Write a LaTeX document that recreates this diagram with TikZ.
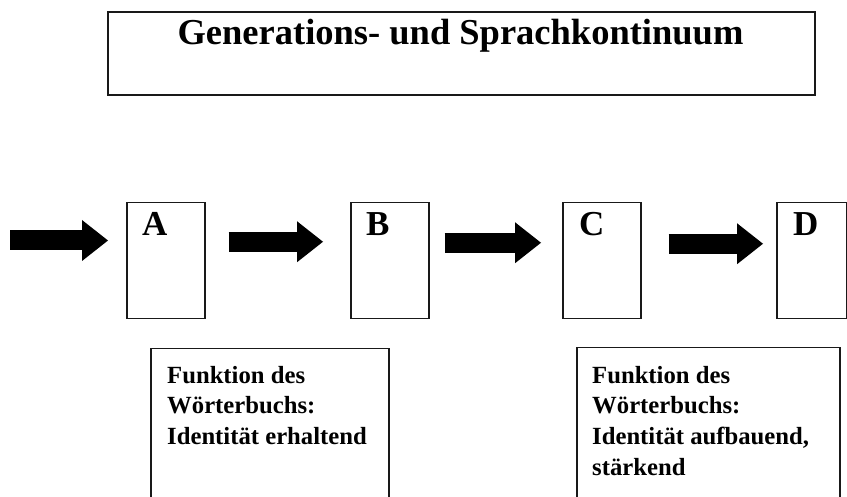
\documentclass[tikz,border=0pt]{standalone}
\usepackage{fontspec}
\setmainfont{Liberation Serif}
\usetikzlibrary{arrows.meta,calc}
\begin{document}
\begin{tikzpicture}[x=1pt,y=-1pt,
  frame/.style={draw=black!90, line width=1.5pt, inner sep=0pt, anchor=north west},
  stagebox/.style={frame, minimum width=78pt, minimum height=116pt},
  letter/.style={font=\fontsize{35}{40}\selectfont\bfseries, inner sep=0pt, anchor=base west},
  infotext/.style={font=\fontsize{24.7}{30.8}\selectfont\bfseries, inner sep=0pt, anchor=base west, align=left},
  fatarrow/.style={line width=20pt, -{Triangle[length=26pt,width=41pt,line width=0pt]}}]
\useasboundingbox (0,0) rectangle (847,497);
\clip (0,0) rectangle (847,497);

% title frame
\node[frame, line width=1.7pt, minimum width=707pt, minimum height=83pt] (title) at (107,11) {};
\node[font=\fontsize{36.5}{40}\selectfont\bfseries, inner sep=0pt, anchor=base] (titletext) at (460.5,45) {Generations- und Sprachkontinuum};

% the four stages
\node[stagebox] (A) at (126,202) {};
\node[stagebox] (B) at (350,202) {};
\node[stagebox] (C) at (562,202) {};
\node[stagebox, minimum width=70pt] (D) at (776,202) {};
\node[letter] (la) at ([xshift=16pt,yshift=-34pt]A.north west) {A};
\node[letter] (lb) at ([xshift=16pt,yshift=-34pt]B.north west) {B};
\node[letter] (lc) at ([xshift=17pt,yshift=-34pt]C.north west) {C};
\node[letter] (ld) at ([xshift=17pt,yshift=-34pt]D.north west) {D};

% block arrows between the stages
\coordinate (start) at (10,240.5);
\draw[fatarrow, shorten >=18pt] (start) -- (start -| A.west);
\draw[fatarrow, shorten <=23pt, shorten >=27pt] ([yshift=19pt]A.east) -- ([yshift=19pt]B.west);
\draw[fatarrow, shorten <=15pt, shorten >=21pt] ([yshift=18pt]B.east) -- ([yshift=18pt]C.west);
\draw[fatarrow, shorten <=27pt, shorten >=13pt] ([yshift=17pt]C.east) -- ([yshift=17pt]D.west);

% dictionary function boxes (their base anchor sits on the last line)
\node[frame, minimum width=238pt, minimum height=170pt] (f1) at (150,348) {};
\node[frame, minimum width=263pt, minimum height=170pt] (f2) at (576,347) {};
\node[infotext] (t1) at (167,444.6) {Funktion des\\Wörterbuchs:\\Identität erhaltend};
\node[infotext] (t2) at (592,475.4) {Funktion des\\Wörterbuchs:\\Identität aufbauend,\\stärkend};
\end{tikzpicture}
\end{document}
